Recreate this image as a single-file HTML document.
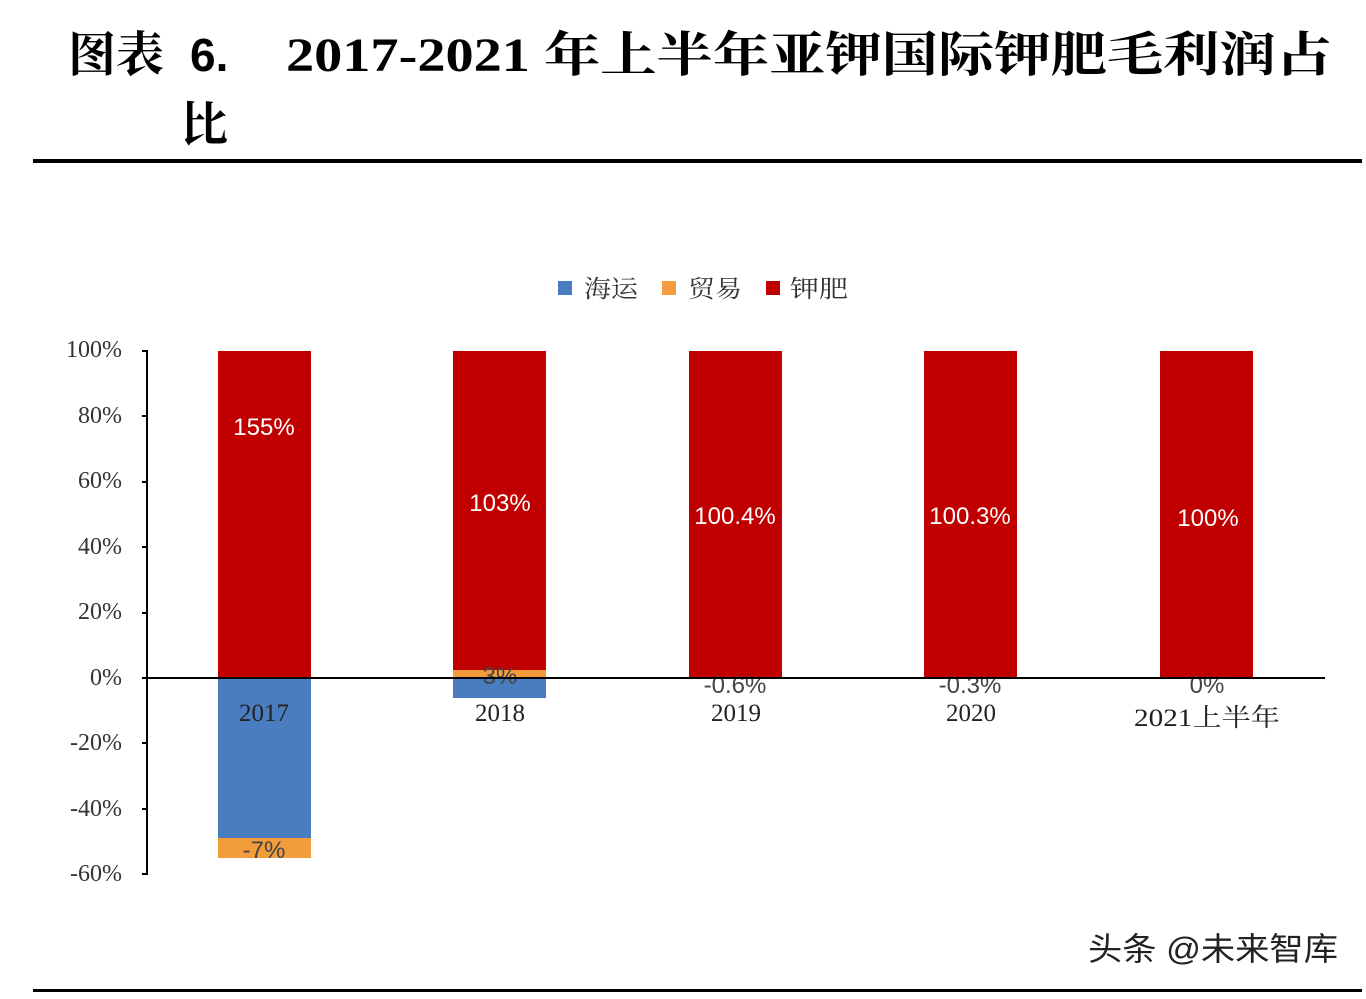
<!DOCTYPE html>
<html><head><meta charset="utf-8"><style>
html,body{margin:0;padding:0;background:#fff;}
</style></head><body>
<svg width="1366" height="994" xmlns="http://www.w3.org/2000/svg">
<rect width="1366" height="994" fill="#fff"/>
<g font-family="'Liberation Serif','Noto Serif CJK SC',serif" font-weight="bold" fill="#000">
<text x="68" y="71" font-size="48">图表</text>
<text x="190" y="71" font-size="46" font-family="'Liberation Sans',sans-serif">6.</text>
<text x="286" y="71" font-size="48" textLength="1046" lengthAdjust="spacingAndGlyphs">2017-2021 年上半年亚钾国际钾肥毛利润占</text>
<text x="180" y="141" font-size="48">比</text>
</g>
<rect x="33" y="159" width="1329" height="4" fill="#000"/>
<rect x="33" y="989" width="1329" height="3" fill="#000"/>
<!-- legend -->
<g font-family="'Liberation Sans','Noto Serif CJK SC',serif" font-size="24" fill="#333">
<rect x="558" y="281" width="14" height="14" fill="#4a7cc0"/><text x="584" y="297" textLength="54" lengthAdjust="spacingAndGlyphs">海运</text>
<rect x="662" y="281" width="14" height="14" fill="#f39c3c"/><text x="688" y="297" textLength="54" lengthAdjust="spacingAndGlyphs">贸易</text>
<rect x="766" y="281" width="14" height="14" fill="#c00000"/><text x="790" y="297" textLength="58" lengthAdjust="spacingAndGlyphs">钾肥</text>
</g>
<!-- y axis -->
<g font-family="'Liberation Serif',serif" font-size="24" fill="#333" text-anchor="end">
<text x="122" y="357">100%</text>
<text x="122" y="423">80%</text>
<text x="122" y="488">60%</text>
<text x="122" y="554">40%</text>
<text x="122" y="619">20%</text>
<text x="122" y="685">0%</text>
<text x="122" y="750">-20%</text>
<text x="122" y="816">-40%</text>
<text x="122" y="881">-60%</text>
</g>
<g stroke="#000" stroke-width="2">
<line x1="147" y1="350" x2="147" y2="875"/>
<line x1="142" y1="351" x2="147" y2="351"/><line x1="142" y1="416" x2="147" y2="416"/>
<line x1="142" y1="482" x2="147" y2="482"/><line x1="142" y1="547" x2="147" y2="547"/>
<line x1="142" y1="613" x2="147" y2="613"/><line x1="142" y1="678" x2="147" y2="678"/>
<line x1="142" y1="743" x2="147" y2="743"/><line x1="142" y1="809" x2="147" y2="809"/>
<line x1="142" y1="874" x2="147" y2="874"/>
</g>
<!-- bars -->
<rect x="218" y="351" width="93" height="327" fill="#c00000"/>
<rect x="218" y="678" width="93" height="160" fill="#4a7cc0"/>
<rect x="218" y="838" width="93" height="20" fill="#f39c3c"/>
<rect x="453" y="351" width="93" height="319" fill="#c00000"/>
<rect x="453" y="670" width="93" height="8" fill="#f39c3c"/>
<rect x="453" y="678" width="93" height="20" fill="#4a7cc0"/>
<rect x="689" y="351" width="93" height="328" fill="#c00000"/>
<rect x="924" y="351" width="93" height="328" fill="#c00000"/>
<rect x="1160" y="351" width="93" height="327" fill="#c00000"/>
<!-- small labels under line -->
<g font-family="'Liberation Sans',sans-serif" font-size="24" fill="#444" text-anchor="middle">
<text x="500" y="684">3%</text>
<text x="735" y="693">-0.6%</text>
<text x="970" y="693">-0.3%</text>
<text x="1207" y="693">0%</text>
<text x="264" y="858">-7%</text>
</g>
<line x1="147" y1="678" x2="1325" y2="678" stroke="#000" stroke-width="2"/>
<g font-family="'Liberation Sans',sans-serif" font-size="24" fill="#fff" text-anchor="middle">
<text x="264" y="435">155%</text>
<text x="500" y="511">103%</text>
<text x="735" y="524">100.4%</text>
<text x="970" y="524">100.3%</text>
<text x="1208" y="526">100%</text>
</g>
<g font-family="'Liberation Serif','Noto Serif CJK SC',serif" font-size="25" fill="#222" text-anchor="middle">
<text x="264" y="721">2017</text>
<text x="500" y="721">2018</text>
<text x="736" y="721">2019</text>
<text x="971" y="721">2020</text>
<text x="1207" y="726" textLength="146" lengthAdjust="spacingAndGlyphs">2021上半年</text>
</g>
<text x="1088" y="960" font-family="'Liberation Sans','Noto Sans CJK SC',sans-serif" font-size="32" fill="#222" textLength="250" lengthAdjust="spacingAndGlyphs">头条 @未来智库</text>
</svg>
</body></html>
